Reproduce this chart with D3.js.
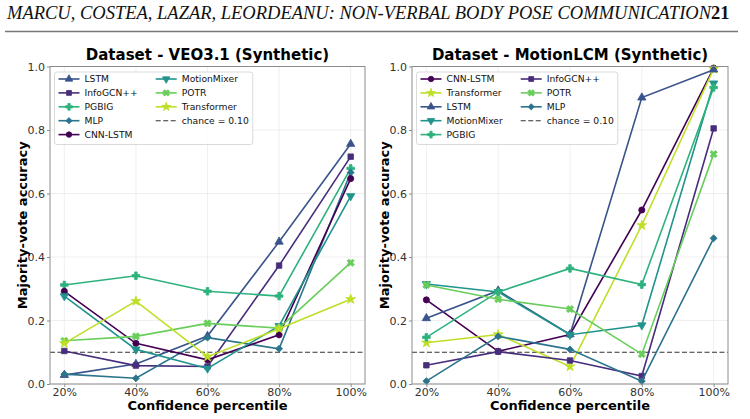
<!DOCTYPE html>
<html>
<head>
<meta charset="utf-8">
<script src="https://cdn.jsdelivr.net/npm/d3@7"></script>
<style>
  body { margin: 0; background: #fff; }
  svg { display: block; }
</style>
</head>
<body>
<script>
// x categories
var percentiles = ["20%", "40%", "60%", "80%", "100%"];
var yTicks = [0, 0.2, 0.4, 0.6, 0.8, 1.0];
// all models, alphabetical (colour order)
var modelNames = ["CNN-LSTM", "InfoGCN++", "LSTM", "MLP", "MotionMixer", "PGBIG", "POTR", "Transformer"];

// VEO3.1 panel, legend / draw order
var veoOrder = ["LSTM", "InfoGCN++", "PGBIG", "MLP", "CNN-LSTM", "MotionMixer", "POTR", "Transformer"];
var veoAcc = [
  [0.028, 0.063, 0.151, 0.448, 0.756],
  [0.104, 0.058, 0.055, 0.373, 0.716],
  [0.312, 0.341, 0.292, 0.277, 0.679],
  [0.031, 0.018, 0.146, 0.111, 0.666],
  [0.292, 0.128, 0.076, 0.155, 0.647],
  [0.277, 0.109, 0.049, 0.183, 0.592],
  [0.136, 0.150, 0.191, 0.176, 0.382],
  [0.128, 0.261, 0.086, 0.174, 0.267]
];

// MotionLCM panel, legend / draw order
var lcmOrder = ["CNN-LSTM", "Transformer", "LSTM", "MotionMixer", "PGBIG", "InfoGCN++", "POTR", "MLP"];
var lcmAcc = [
  [0.265, 0.103, 0.156, 0.548, 0.995],
  [0.130, 0.156, 0.055, 0.500, 0.992],
  [0.207, 0.294, 0.156, 0.902, 0.990],
  [0.315, 0.290, 0.155, 0.185, 0.947],
  [0.147, 0.290, 0.364, 0.313, 0.934],
  [0.059, 0.102, 0.074, 0.025, 0.805],
  [0.312, 0.267, 0.236, 0.094, 0.724],
  [0.009, 0.150, 0.109, 0.009, 0.459]
];
var chance = 0.10;

var width = 750, height = 419;
var svg = d3.select("body").append("svg")
  .attr("width", width)
  .attr("height", height);

var color = d3.scaleOrdinal()
  .domain(modelNames)
  .range(modelNames.map(function(d, i) { return d3.interpolateViridis(i * 0.9 / 7); }));

// marker shape per model
var markerType = {
  "CNN-LSTM": { type: d3.symbolCircle, size: 30, rot: 0 },
  "InfoGCN++": { type: d3.symbolSquare, size: 30, rot: 0 },
  "LSTM": { type: d3.symbolTriangle, size: 30, rot: 0 },
  "MLP": { type: d3.symbolSquare, size: 24, rot: 45 },
  "MotionMixer": { type: d3.symbolTriangle, size: 30, rot: 180 },
  "PGBIG": { type: d3.symbolCross, size: 32, rot: 0 },
  "POTR": { type: d3.symbolCross, size: 32, rot: 45 },
  "Transformer": { type: d3.symbolStar, size: 30, rot: 0 }
};

// page header
var header = svg.append("text")
  .attr("x", 7)
  .attr("y", 19)
  .style("font-family", "'Liberation Serif', serif")
  .style("font-size", "18.5px")
  .attr("fill", "#111");
header.append("tspan")
  .style("font-style", "italic")
  .text("MARCU, COSTEA, LAZAR, LEORDEANU: NON-VERBAL BODY POSE COMMUNICATION");
header.append("tspan")
  .style("font-weight", "bold")
  .text("21");
svg.append("line")
  .attr("x1", 5).attr("x2", 738)
  .attr("y1", 31.5).attr("y2", 31.5)
  .attr("stroke", "#777")
  .attr("stroke-width", 1.3);

function drawPanel(box, title, order, acc) {
  // matplotlib adds 5% margin on each side of the data range
  var span = (box.right - box.left) / 1.1;
  var x = d3.scalePoint().domain(percentiles)
    .range([box.left + span * 0.05, box.right - span * 0.05]).padding(0);
  var y = d3.scaleLinear().domain([0, 1]).range([box.bottom, box.top]);

  var g = svg.append("g");

  // grid
  g.append("g").selectAll("line").data(percentiles).enter().append("line")
    .attr("x1", function(d) { return x(d); }).attr("x2", function(d) { return x(d); })
    .attr("y1", box.top).attr("y2", box.bottom)
    .attr("stroke", "#ebebeb").attr("stroke-width", 0.8);
  g.append("g").selectAll("line").data(yTicks).enter().append("line")
    .attr("x1", box.left).attr("x2", box.right)
    .attr("y1", function(d) { return y(d); }).attr("y2", function(d) { return y(d); })
    .attr("stroke", "#ebebeb").attr("stroke-width", 0.8);

  // chance line
  g.append("line")
    .attr("x1", box.left).attr("x2", box.right)
    .attr("y1", y(chance)).attr("y2", y(chance))
    .attr("stroke", "#333")
    .attr("stroke-width", 1.1)
    .attr("stroke-dasharray", "5,2.5");

  var line = d3.line()
    .x(function(d, i) { return x(percentiles[i]); })
    .y(function(d) { return y(d); });

  order.forEach(function(name, k) {
    var c = color(name);
    var m = markerType[name];
    g.append("path")
      .datum(acc[k])
      .attr("d", line)
      .attr("fill", "none")
      .attr("stroke", c)
      .attr("stroke-width", 1.6);
    g.append("g").selectAll("path").data(acc[k]).enter().append("path")
      .attr("d", d3.symbol().type(m.type).size(m.size))
      .attr("transform", function(d, i) {
        return "translate(" + x(percentiles[i]) + "," + y(d) + ") rotate(" + m.rot + ")";
      })
      .attr("fill", c)
      .attr("stroke", c)
      .attr("stroke-width", 0.8);
  });

  // frame
  g.append("rect")
    .attr("x", box.left).attr("y", box.top)
    .attr("width", box.right - box.left).attr("height", box.bottom - box.top)
    .attr("fill", "none").attr("stroke", "#8c8c8c").attr("stroke-width", 1);

  // axes
  var xAxis = g.append("g")
    .attr("transform", "translate(0," + box.bottom + ")")
    .call(d3.axisBottom(x).tickSize(3).tickPadding(1));
  var yAxis = g.append("g")
    .attr("transform", "translate(" + box.left + ",0)")
    .call(d3.axisLeft(y).tickValues(yTicks).tickFormat(d3.format(".1f")).tickSize(3).tickPadding(2));
  [xAxis, yAxis].forEach(function(a) {
    a.select(".domain").remove();
    a.selectAll(".tick line").attr("stroke", "#8c8c8c");
    a.selectAll(".tick text")
      .attr("fill", "#333")
      .style("font-family", "'DejaVu Sans', sans-serif")
      .style("font-size", "11px");
  });

  // titles
  var cx = (box.left + box.right) / 2;
  g.append("text")
    .attr("x", cx).attr("y", 60)
    .attr("text-anchor", "middle")
    .style("font-family", "'DejaVu Sans', sans-serif")
    .style("font-size", "15px").style("font-weight", "bold")
    .text(title);
  g.append("text")
    .attr("x", cx).attr("y", 410)
    .attr("text-anchor", "middle")
    .style("font-family", "'DejaVu Sans', sans-serif")
    .style("font-size", "13px").style("font-weight", "bold")
    .text("Confidence percentile");
  g.append("text")
    .attr("transform", "translate(" + (box.left - 23) + "," + ((box.top + box.bottom) / 2) + ") rotate(-90)")
    .attr("text-anchor", "middle")
    .style("font-family", "'DejaVu Sans', sans-serif")
    .style("font-size", "13px").style("font-weight", "bold")
    .text("Majority-vote accuracy");

  // legend
  var entries = order.map(function(n) { return { name: n, chance: false }; });
  entries.push({ name: "chance = 0.10", chance: true });
  var rows = Math.ceil(entries.length / 2);
  var lg = g.append("g");
  var bg = lg.append("rect");
  var lx = box.left + 4.5, ly = box.top + 5.5;
  var rowH = 13.9, handle = 21, fs = 9.2;

  var colX = lx + 4;
  var cols = [entries.slice(0, rows), entries.slice(rows)];
  var right = 0;
  cols.forEach(function(col) {
    var maxW = 0;
    col.forEach(function(e, r) {
      var cy = ly + 7 + r * rowH;
      if (e.chance) {
        lg.append("line")
          .attr("x1", colX).attr("x2", colX + handle)
          .attr("y1", cy).attr("y2", cy)
          .attr("stroke", "#333").attr("stroke-width", 1.1)
          .attr("stroke-dasharray", "5,2.5");
      } else {
        var c = color(e.name), m = markerType[e.name];
        lg.append("line")
          .attr("x1", colX).attr("x2", colX + handle)
          .attr("y1", cy).attr("y2", cy)
          .attr("stroke", c).attr("stroke-width", 1.6);
        lg.append("path")
          .attr("d", d3.symbol().type(m.type).size(m.size * 0.8))
          .attr("transform", "translate(" + (colX + handle / 2) + "," + cy + ") rotate(" + m.rot + ")")
          .attr("fill", c).attr("stroke", c).attr("stroke-width", 0.8);
      }
      var t = lg.append("text")
        .attr("x", colX + handle + 5)
        .attr("y", cy + 3.3)
        .attr("fill", "#111")
        .style("font-family", "'DejaVu Sans', sans-serif")
        .style("font-size", fs + "px")
        .text(e.name);
      maxW = Math.max(maxW, t.node().getComputedTextLength());
    });
    right = colX + handle + 5 + maxW;
    colX = right + 18;
  });
  bg.attr("x", lx).attr("y", ly)
    .attr("width", right + 4 - lx)
    .attr("height", rows * rowH + 3)
    .attr("rx", 2.5)
    .attr("fill", "#fff").attr("fill-opacity", 0.85)
    .attr("stroke", "#d0d0d0").attr("stroke-width", 0.8);
}

drawPanel({ left: 50, right: 365, top: 66.5, bottom: 384 }, "Dataset - VEO3.1 (Synthetic)", veoOrder, veoAcc);
drawPanel({ left: 412, right: 728, top: 66.5, bottom: 384 }, "Dataset - MotionLCM (Synthetic)", lcmOrder, lcmAcc);
</script>
</body>
</html>
